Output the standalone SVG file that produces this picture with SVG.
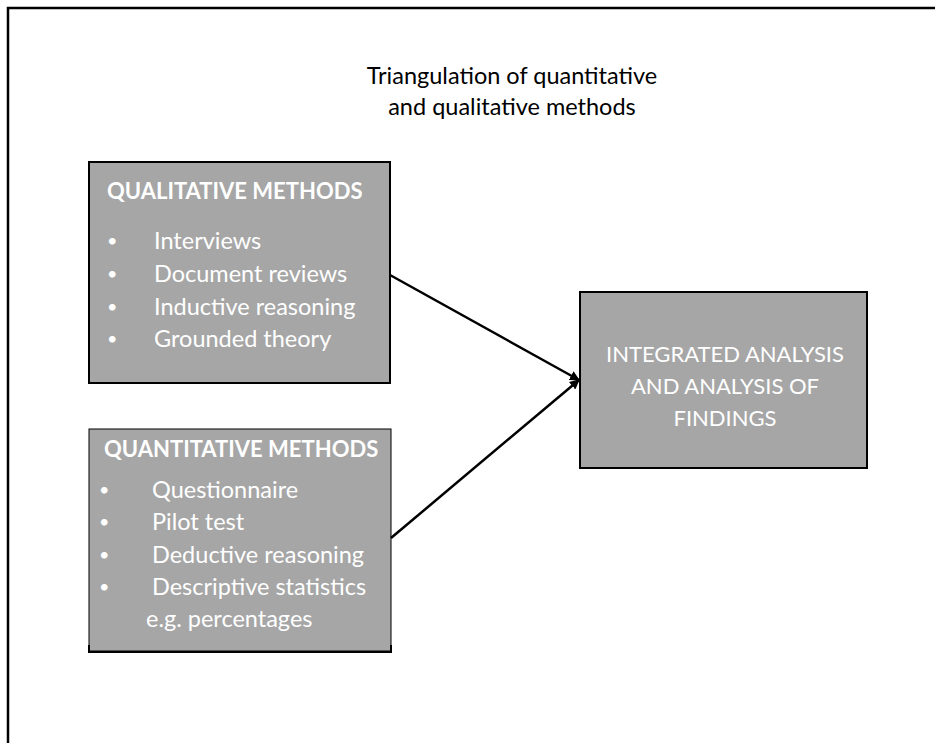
<svg xmlns="http://www.w3.org/2000/svg" width="935" height="743" viewBox="0 0 935 743">
<style>
.box{fill:#a6a6a6;stroke:#000;stroke-width:2}
.t{font-family:Lato,"Liberation Sans",sans-serif;fill:#fff;font-size:23.5px}
.h{font-weight:bold;font-size:22px}
.caps{font-size:22px}
.b{font-family:Lato,"Liberation Sans",sans-serif;fill:#fff;font-size:18px}
.title{font-family:Lato,"Liberation Sans",sans-serif;fill:#000;font-size:23.5px;text-anchor:middle}
.c{text-anchor:middle}
.conn{stroke:#000;stroke-width:2.5;fill:none}
</style>
<defs>
<marker id="ah" viewBox="0 0 10 10" refX="9" refY="5" markerWidth="4" markerHeight="4" orient="auto" markerUnits="strokeWidth">
<path d="M0,0 L10,5 L0,10 Z" fill="#000"/>
</marker>
</defs>
<rect x="8" y="8" width="960" height="760" fill="#fff" stroke="#000" stroke-width="2.5"/>
<g id="title">
<text class="title" x="512" y="84">Triangulation of quantitative</text>
<text class="title" x="512" y="115">and qualitative methods</text>
</g>
<g id="qualitative">
<rect class="box" x="89" y="162" width="301" height="221"/>
<text class="t h" x="107" y="199">QUALITATIVE METHODS</text>
<text class="b" x="107" y="247">•</text><text class="t" x="154" y="249">Interviews</text>
<text class="b" x="107" y="280">•</text><text class="t" x="154" y="282">Document reviews</text>
<text class="b" x="107" y="313">•</text><text class="t" x="154" y="315">Inductive reasoning</text>
<text class="b" x="107" y="345">•</text><text class="t" x="154" y="347">Grounded theory</text>
</g>
<g id="quantitative">
<rect x="89" y="429" width="302" height="222" fill="#a6a6a6" stroke="#000" stroke-width="1"/>
<path d="M89,645 V652 H391 V645" fill="none" stroke="#000" stroke-width="2"/>
<text class="t h" x="104" y="457">QUANTITATIVE METHODS</text>
<text class="b" x="99" y="496">•</text><text class="t" x="152" y="498">Questionnaire</text>
<text class="b" x="99" y="528">•</text><text class="t" x="152" y="530">Pilot test</text>
<text class="b" x="99" y="561">•</text><text class="t" x="152" y="563">Deductive reasoning</text>
<text class="b" x="99" y="593">•</text><text class="t" x="152" y="595">Descriptive statistics</text>
<text class="t" x="146" y="627">e.g. percentages</text>
</g>
<g id="integrated">
<rect class="box" x="580" y="292" width="287" height="176"/>
<text class="t c caps" x="725" y="362">INTEGRATED ANALYSIS</text>
<text class="t c caps" x="725" y="394">AND ANALYSIS OF</text>
<text class="t c caps" x="725" y="426">FINDINGS</text>
</g>
<g id="connectors">
<line class="conn" x1="390" y1="275" x2="579" y2="380" marker-end="url(#ah)"/>
<line class="conn" x1="391" y1="538" x2="579" y2="380" marker-end="url(#ah)"/>
</g>
</svg>
